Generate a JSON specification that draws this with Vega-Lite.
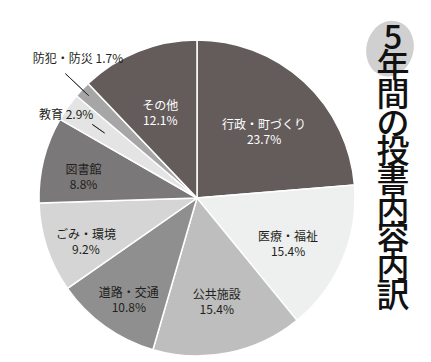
{
  "$schema": "https://vega.github.io/schema/vega-lite/v6.json",
  "padding": {"left": 20, "top": 9, "right": 0, "bottom": 0},
  "background": "white",
  "spacing": 0,
  "center": true,
  "bounds": "flush",
  "config": {"view": {"stroke": null}, "font": "Noto Sans CJK JP"},
  "datasets": {
    "shares": [
      {"idx": 1, "category": "行政・町づくり", "share": 0.237},
      {"idx": 2, "category": "医療・福祉", "share": 0.154},
      {"idx": 3, "category": "公共施設", "share": 0.154},
      {"idx": 4, "category": "道路・交通", "share": 0.108},
      {"idx": 5, "category": "ごみ・環境", "share": 0.092},
      {"idx": 6, "category": "図書館", "share": 0.088},
      {"idx": 7, "category": "教育", "share": 0.029},
      {"idx": 8, "category": "防犯・防災", "share": 0.017},
      {"idx": 9, "category": "その他", "share": 0.121}
    ],
    "title": [
      {"i": 0, "ch": "5"},
      {"i": 1, "ch": "年"},
      {"i": 2, "ch": "間"},
      {"i": 3, "ch": "の"},
      {"i": 4, "ch": "投"},
      {"i": 5, "ch": "書"},
      {"i": 6, "ch": "内"},
      {"i": 7, "ch": "容"},
      {"i": 8, "ch": "内"},
      {"i": 9, "ch": "訳"}
    ]
  },
  "hconcat": [
    {
      "width": 354,
      "height": 316,
      "data": {"name": "shares"},
      "encoding": {
        "theta": {"field": "share", "type": "quantitative", "stack": true},
        "order": {"field": "idx", "type": "quantitative"}
      },
      "layer": [
        {
          "mark": {"type": "arc", "outerRadius": 158, "stroke": "white", "strokeWidth": 1.5},
          "encoding": {
            "color": {
              "field": "category",
              "type": "nominal",
              "scale": {
                "domain": ["行政・町づくり", "医療・福祉", "公共施設", "道路・交通", "ごみ・環境", "図書館", "教育", "防犯・防災", "その他"],
                "range": ["#645c5b", "#eef0ef", "#bdbebd", "#8f8f8f", "#d4d5d4", "#7a7878", "#e4e4e4", "#a6a6a6", "#645c5b"]
              },
              "legend": null
            }
          }
        },
        {
          "mark": {"type": "arc", "clip": true, "outerRadius": 181, "innerRadius": 149, "padAngle": 1, "fillOpacity": 0, "stroke": "#231f20", "strokeWidth": 0.8},
          "encoding": {
            "strokeOpacity": {"condition": {"test": "datum.category === '防犯・防災'", "value": 1}, "value": 0}
          }
        },
        {
          "mark": {"type": "arc", "clip": true, "outerRadius": 128, "innerRadius": 113, "padAngle": 1, "fillOpacity": 0, "stroke": "#231f20", "strokeWidth": 0.8},
          "encoding": {
            "strokeOpacity": {"condition": {"test": "datum.category === '教育'", "value": 1}, "value": 0}
          }
        },
        {
          "mark": {
            "type": "text", "radius": 99, "fontSize": 12, "lineHeight": 15, "align": "center", "baseline": "middle",
            "text": {"expr": "indexof(['行政・町づくり','医療・福祉','公共施設','その他'], datum.category) >= 0 ? [datum.category, format(datum.share, '.1%')] : ''"}
          },
          "encoding": {
            "color": {"condition": {"test": "datum.category === '行政・町づくり' || datum.category === 'その他'", "value": "#ffffff"}, "value": "#231f20"}
          }
        },
        {
          "mark": {
            "type": "text", "radius": 117, "fontSize": 12, "lineHeight": 15, "align": "center", "baseline": "middle", "color": "#231f20",
            "text": {"expr": "indexof(['道路・交通','ごみ・環境','図書館'], datum.category) >= 0 ? [datum.category, format(datum.share, '.1%')] : ''"}
          }
        },
        {
          "mark": {
            "type": "text", "radius": 155, "dx": -4, "dy": 6, "fontSize": 12, "align": "center", "baseline": "middle", "color": "#231f20",
            "text": {"expr": "datum.category === '教育' ? datum.category + ' ' + format(datum.share, '.1%') : ''"}
          }
        },
        {
          "mark": {
            "type": "text", "radius": 183, "dx": 14, "dy": -13, "fontSize": 12, "align": "center", "baseline": "middle", "color": "#231f20",
            "text": {"expr": "datum.category === '防犯・防災' ? datum.category + ' ' + format(datum.share, '.1%') : ''"}
          }
        }
      ]
    },
    {
      "width": 38,
      "height": 360,
      "data": {"name": "title"},
      "encoding": {
        "y": {"field": "i", "type": "quantitative", "scale": {"domain": [-0.7185, 11.838], "reverse": true, "nice": false, "zero": false}, "axis": null}
      },
      "layer": [
        {
          "transform": [{"filter": "datum.i === 0"}],
          "mark": {"type": "point", "shape": "M0.2415,-0.901A0.767,0.933,15,1,1,-0.2415,0.901A0.767,0.933,15,1,1,0.2415,-0.901Z", "size": 3600, "yOffset": 10, "xOffset": -3, "filled": true, "color": "#cfd0cf", "opacity": 1}
        },
        {
          "mark": {"type": "text", "clip": true, "fontSize": 33, "fontWeight": 500, "color": "#111111", "align": "center", "baseline": "middle"},
          "encoding": {"text": {"field": "ch", "type": "nominal"}}
        }
      ]
    }
  ]
}
